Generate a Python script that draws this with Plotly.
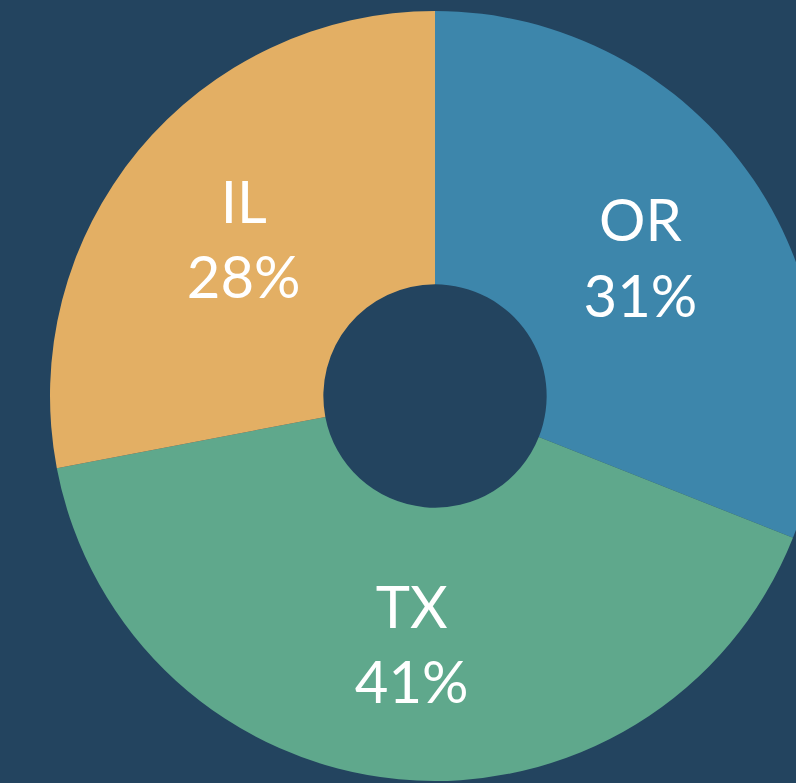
import plotly.graph_objects as go

states = ["OR", "TX", "IL"]
shares = [31, 41, 28]
colors = ["#3D86AB", "#5FA88C", "#E3AF64"]

bg = "#23445F"

fig = go.Figure(
    go.Pie(
        labels=states,
        values=shares,
        hole=0.29,
        sort=False,
        direction="clockwise",
        rotation=0,
        marker=dict(colors=colors, line=dict(width=0)),
        texttemplate="%{label}<br>%{value}%",
        textposition="inside",
        insidetextorientation="horizontal",
        textfont=dict(family="Lato, Open Sans, sans-serif", size=58, color="white"),
        hoverinfo="label+percent",
        showlegend=False,
    )
)

# pie is wider than the window, so the right side gets cut off like the original
fig.update_layout(
    width=870,
    height=783,
    margin=dict(l=50, r=50, t=11, b=2),
    paper_bgcolor=bg,
    plot_bgcolor=bg,
)

fig.write_html(
    "out.html",
    post_script="document.body.style.margin='0';document.body.style.overflow='hidden';"
    "document.body.style.background='" + bg + "';",
)
